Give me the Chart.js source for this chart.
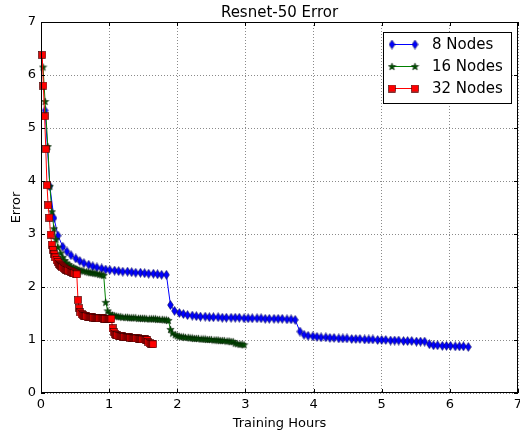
<!DOCTYPE html>
<html>
<head>
<meta charset="utf-8">
<script src="https://cdn.jsdelivr.net/npm/chart.js@4/dist/chart.umd.min.js"></script>
<style>
html,body{margin:0;padding:0;background:#fff;}
#wrap{width:520px;height:431px;}
</style>
</head>
<body>
<div id="wrap"><canvas id="c" width="520" height="431"></canvas></div>
<script>
// ---- data ----
const titleText = 'Resnet-50 Error';
const xAxisTitle = 'Training Hours';
const yAxisTitle = 'Error';
const xTickLabels = ['0','1','2','3','4','5','6','7'];
const yTickLabels = ['0','1','2','3','4','5','6','7'];
const seriesNames = ['8 Nodes', '16 Nodes', '32 Nodes'];

const hours8 = [0.06,0.13,0.19,0.25,0.32,0.38,0.44,0.51,0.57,0.63,0.70,0.76,0.82,0.89,0.95,1.01,1.08,1.14,1.20,1.27,
1.33,1.39,1.46,1.52,1.58,1.65,1.71,1.77,1.84,1.90,1.96,2.03,2.09,2.15,2.22,2.28,2.34,2.41,2.47,2.53,
2.60,2.66,2.72,2.79,2.85,2.91,2.98,3.04,3.10,3.17,3.23,3.29,3.35,3.42,3.48,3.54,3.61,3.67,3.73,3.80,
3.86,3.92,3.99,4.05,4.11,4.18,4.24,4.30,4.37,4.43,4.49,4.56,4.62,4.68,4.75,4.81,4.87,4.94,5.00,5.06,
5.13,5.19,5.25,5.32,5.38,5.44,5.51,5.57,5.63,5.70,5.76,5.82,5.89,5.95,6.01,6.08,6.14,6.20,6.27];
const err8 = [5.33,3.90,3.30,2.97,2.76,2.67,2.60,2.54,2.49,2.45,2.42,2.39,2.37,2.35,2.33,2.32,2.31,2.30,2.29,2.29,
2.28,2.27,2.27,2.26,2.25,2.25,2.24,2.23,2.23,
1.66,1.55,1.51,1.49,1.47,1.46,1.45,1.44,1.44,1.43,1.43,1.43,1.42,1.42,1.42,1.42,1.42,1.41,1.41,1.41,
1.41,1.41,1.40,1.40,1.40,1.40,1.40,1.39,1.39,1.38,
1.16,1.10,1.08,1.07,1.06,1.05,1.05,1.04,1.04,1.03,1.03,1.03,1.02,1.02,1.02,1.01,1.01,1.01,1.00,1.00,
1.00,0.99,0.99,0.99,0.98,0.98,0.98,0.97,0.97,0.97,
0.92,0.90,0.90,0.89,0.89,0.89,0.88,0.88,0.88,0.87];

const hours16 = [0.03,0.06,0.10,0.13,0.16,0.19,0.22,0.25,0.29,0.32,0.35,0.38,0.41,0.44,0.48,0.51,0.54,0.57,0.60,0.63,
0.67,0.70,0.73,0.76,0.79,0.82,0.86,0.89,0.92,0.95,0.98,1.01,1.05,1.08,1.11,1.14,1.17,1.20,1.24,1.27,
1.30,1.33,1.36,1.39,1.43,1.46,1.49,1.52,1.55,1.59,1.62,1.65,1.68,1.71,1.74,1.78,1.81,1.84,1.87,1.90,
1.93,1.97,2.00,2.03,2.06,2.09,2.12,2.16,2.19,2.22,2.25,2.28,2.31,2.35,2.38,2.41,2.44,2.47,2.50,2.54,
2.57,2.60,2.63,2.66,2.69,2.73,2.76,2.79,2.82,2.85,2.88,2.92,2.95,2.98];
const err16 = [6.15,5.50,4.65,3.90,3.42,3.10,2.90,2.75,2.64,2.56,2.50,2.45,2.42,2.39,2.37,2.35,2.33,2.32,2.31,2.30,
2.29,2.28,2.27,2.27,2.26,2.25,2.24,2.23,2.22,
1.71,1.55,1.50,1.47,1.46,1.45,1.44,1.44,1.43,1.43,1.43,1.42,1.42,1.42,1.42,1.41,1.41,1.41,1.41,1.40,
1.40,1.40,1.40,1.40,1.39,1.39,1.39,1.38,1.38,1.37,
1.20,1.13,1.10,1.08,1.07,1.06,1.06,1.05,1.05,1.04,1.04,1.03,1.03,1.03,1.02,1.02,1.02,1.01,1.01,1.01,
1.00,1.00,1.00,0.99,0.99,0.99,0.98,0.98,0.97,0.97,
0.94,0.93,0.92,0.92,0.91];

const hours32 = [0.018,0.035,0.053,0.070,0.088,0.105,0.123,0.140,0.158,0.175,0.193,0.210,0.228,0.245,0.263,0.280,0.298,0.315,0.333,0.350,
0.368,0.385,0.403,0.420,0.438,0.455,0.473,0.490,0.508,0.525,0.543,0.560,0.578,0.595,0.613,0.630,0.648,0.665,0.683,0.700,
0.718,0.735,0.753,0.770,0.788,0.805,0.823,0.840,0.858,0.875,0.893,0.910,0.928,0.945,0.963,0.980,0.998,1.015,1.033,1.050,
1.068,1.085,1.103,1.120,1.138,1.155,1.173,1.190,1.208,1.225,1.243,1.260,1.278,1.295,1.313,1.330,1.348,1.365,1.383,1.400,
1.418,1.435,1.453,1.470,1.488,1.505,1.523,1.540,1.558,1.575,1.593,1.610,1.628,1.645];
const err32 = [6.38,5.80,5.22,4.60,3.92,3.54,3.31,2.99,2.80,2.70,2.62,2.56,2.51,2.47,2.44,2.41,2.39,2.37,2.35,2.34,
2.33,2.32,2.31,2.30,2.29,2.28,2.27,2.26,2.25,2.24,
1.75,1.60,1.52,1.49,1.47,1.46,1.45,1.45,1.44,1.44,1.43,1.43,1.43,1.42,1.42,1.42,1.42,1.41,1.41,1.41,
1.41,1.41,1.40,1.40,1.40,1.40,1.40,1.40,1.40,
1.22,1.15,1.12,1.10,1.09,1.08,1.08,1.07,1.07,1.06,1.06,1.06,1.05,1.05,1.05,1.04,1.04,1.04,1.03,1.03,
1.03,1.03,1.02,1.02,1.02,1.01,1.01,1.01,1.00,1.00,
0.96,0.94,0.93,0.93,0.92];

// ---- marker images (styles) ----
function mk(w, h, draw) {
  const c = document.createElement('canvas');
  c.width = w; c.height = h;
  const g = c.getContext('2d');
  draw(g, w, h);
  return c;
}
const diamond = mk(7, 10, (g, w, h) => {
  g.beginPath();
  g.moveTo(w/2, 0.6); g.lineTo(w - 0.6, h/2); g.lineTo(w/2, h - 0.6); g.lineTo(0.6, h/2); g.closePath();
  g.fillStyle = '#0000ff'; g.fill();
  g.strokeStyle = '#000050'; g.lineWidth = 0.6; g.stroke();
});
const star = mk(9, 9, (g, w, h) => {
  const cx = w/2, cy = h/2 + 0.3, ro = 3.9, ri = 1.6;
  g.beginPath();
  for (let i = 0; i < 10; i++) {
    const r = i % 2 ? ri : ro;
    const a = -Math.PI/2 + i * Math.PI/5;
    const px = cx + r*Math.cos(a), py = cy + r*Math.sin(a);
    if (i) g.lineTo(px, py); else g.moveTo(px, py);
  }
  g.closePath();
  g.fillStyle = '#005000'; g.fill();
  g.strokeStyle = '#001a00'; g.lineWidth = 0.5; g.stroke();
});
const square = mk(8, 8, (g, w, h) => {
  g.fillStyle = '#ff0000'; g.fillRect(0.5, 0.5, 7, 7);
  g.strokeStyle = '#300000'; g.lineWidth = 0.6; g.strokeRect(0.5, 0.5, 7, 7);
});

const pts = (xs, ys) => xs.map((x, i) => ({x: x, y: ys[i]}));

Chart.defaults.font.family = '"DejaVu Sans", sans-serif';
Chart.defaults.color = '#000';

const PLOT_RIGHT = 518;

const frame = {
  id: 'frame',
  afterLayout(chart) {
    const a = chart.chartArea;
    if (a.right !== PLOT_RIGHT) {
      a.right = PLOT_RIGHT; a.width = PLOT_RIGHT - a.left;
      const xs = chart.scales.x;
      xs.right = PLOT_RIGHT; xs.width = PLOT_RIGHT - xs.left;
      xs.configure();
      const tb = chart.titleBlock;
      if (tb) { tb.right = PLOT_RIGHT; tb.width = PLOT_RIGHT - tb.left; }
    }
  },
  afterDraw(chart) {
    const {ctx, chartArea: a, scales} = chart;
    ctx.save();
    // inward ticks
    ctx.strokeStyle = '#000'; ctx.lineWidth = 1;
    ctx.beginPath();
    for (let i = 0; i < xTickLabels.length; i++) {
      const x = Math.round(scales.x.getPixelForValue(i)) + 0.5;
      ctx.moveTo(x, a.bottom); ctx.lineTo(x, a.bottom - 4);
      ctx.moveTo(x, a.top); ctx.lineTo(x, a.top + 4);
    }
    for (let i = 0; i < yTickLabels.length; i++) {
      const y = Math.round(scales.y.getPixelForValue(i)) + 0.5;
      ctx.moveTo(a.left, y); ctx.lineTo(a.left + 4, y);
      ctx.moveTo(a.right, y); ctx.lineTo(a.right - 4, y);
    }
    ctx.stroke();
    // frame
    ctx.strokeStyle = '#000'; ctx.lineWidth = 1;
    ctx.strokeRect(Math.round(a.left) + 0.5, Math.round(a.top) + 0.5, Math.round(a.right - a.left) - 1, Math.round(a.bottom - a.top) - 1);
    // legend
    const bx = 383.5, by = 32.5, bw = 128, bh = 71;
    ctx.fillStyle = '#fff';
    ctx.fillRect(bx, by, bw, bh);
    ctx.strokeStyle = '#000'; ctx.lineWidth = 1;
    ctx.strokeRect(bx, by, bw, bh);
    const imgs = [diamond, star, square];
    const cols = ['#0000ff', '#008000', '#ff0000'];
    const rows = [44.5, 66.5, 88.5];
    ctx.font = '15px "DejaVu Sans"';
    ctx.textBaseline = 'middle';
    chart.data.datasets.forEach((ds, i) => {
      const y = rows[i];
      ctx.strokeStyle = cols[i]; ctx.lineWidth = 1;
      ctx.beginPath(); ctx.moveTo(392, y); ctx.lineTo(415, y); ctx.stroke();
      const im = imgs[i];
      ctx.drawImage(im, 392 - im.width/2, y - im.height/2);
      ctx.drawImage(im, 415 - im.width/2, y - im.height/2);
      ctx.fillStyle = '#000';
      ctx.fillText(ds.label, 432, y + 1);
    });
    ctx.restore();
  }
};

new Chart(document.getElementById('c'), {
  type: 'line',
  data: {
    datasets: [
      {label: seriesNames[0], data: pts(hours8, err8), borderColor: '#0000ff', borderWidth: 1,
       pointStyle: diamond, pointRadius: 3, order: 3, clip: false},
      {label: seriesNames[1], data: pts(hours16, err16), borderColor: '#008000', borderWidth: 1,
       pointStyle: star, pointRadius: 3, order: 2, clip: false},
      {label: seriesNames[2], data: pts(hours32, err32), borderColor: '#ff0000', borderWidth: 1,
       pointStyle: square, pointRadius: 3, order: 1, clip: false}
    ]
  },
  options: {
    responsive: false,
    animation: false,
    events: [],
    layout: {padding: {left: 0, right: 2, top: 0, bottom: 0}},
    elements: {line: {tension: 0, fill: false}},
    plugins: {
      legend: {display: false},
      tooltip: {enabled: false},
      title: {display: true, text: titleText, fullSize: false, color: '#000',
              font: {size: 15, weight: 'normal'}, padding: {top: 4, bottom: 0}}
    },
    scales: {
      x: {
        type: 'linear', min: 0, max: 7,
        ticks: {stepSize: 1, padding: 4, font: {size: 13}, color: '#000', maxRotation: 0,
                callback: (v) => xTickLabels[v] !== undefined ? xTickLabels[v] : ''},
        grid: {color: '#8a8a8a', lineWidth: 1, drawTicks: false},
        border: {display: false, dash: [1, 2]},
        title: {display: true, text: xAxisTitle, font: {size: 13}, color: '#000', padding: {top: 0, bottom: 0}},
        afterFit(s) { s.height = 38; s.paddingLeft = 0; s.paddingRight = 0; }
      },
      y: {
        type: 'linear', min: 0, max: 7,
        ticks: {stepSize: 1, padding: 5, font: {size: 13}, color: '#000',
                callback: (v) => yTickLabels[v] !== undefined ? yTickLabels[v] : ''},
        grid: {color: '#8a8a8a', lineWidth: 1, drawTicks: false},
        border: {display: false, dash: [1, 2]},
        title: {display: true, text: yAxisTitle, font: {size: 13}, color: '#000', padding: {top: 9, bottom: 0}},
        afterFit(s) { s.width = 41; s.paddingTop = 0; s.paddingBottom = 0; }
      }
    }
  },
  plugins: [frame]
});
</script>
</body>
</html>
